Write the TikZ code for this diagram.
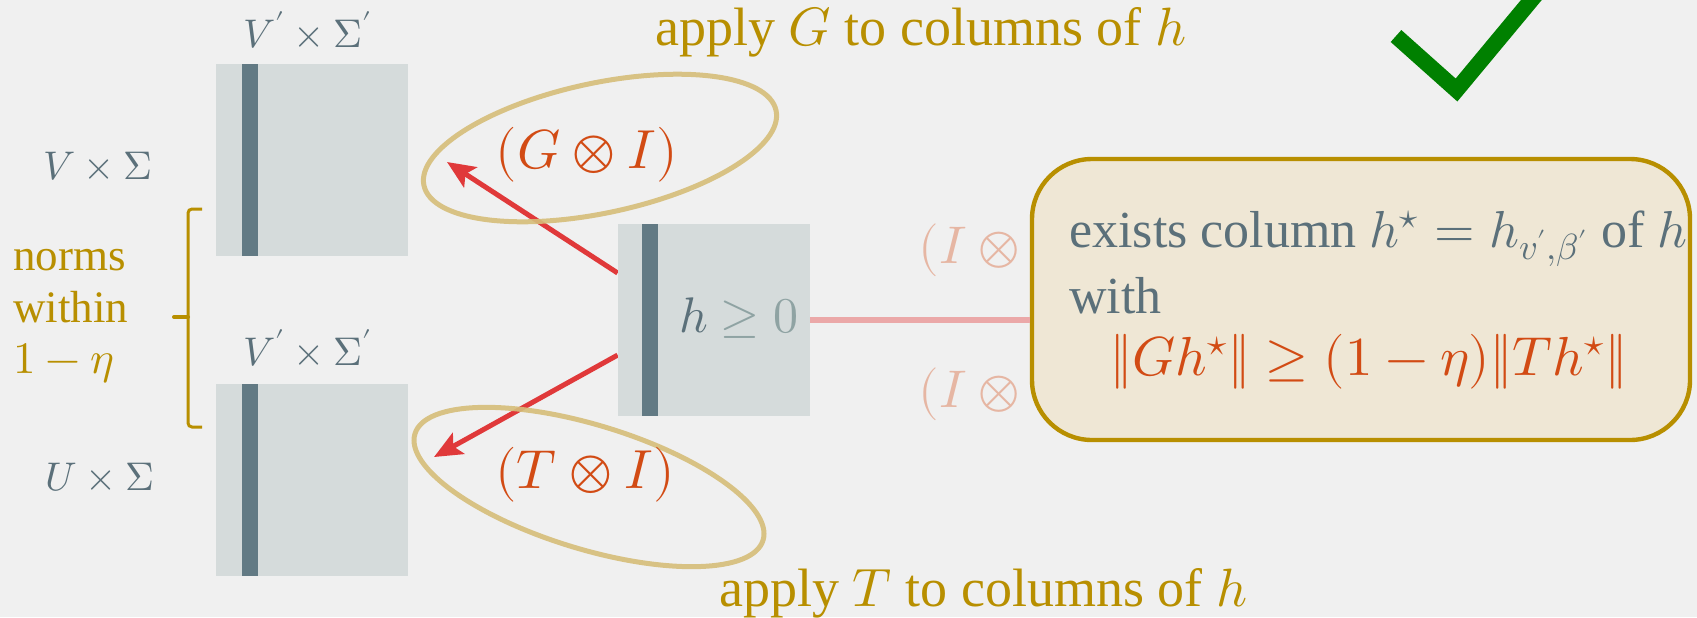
\documentclass[tikz,border=0pt]{standalone}
\usepackage{fontspec}
\usepackage{unicode-math}
\setmainfont{Liberation Serif}
\setmathfont{Latin Modern Math}
\usetikzlibrary{shapes.geometric, arrows.meta}
\definecolor{bg}{HTML}{F0F0F0}
\definecolor{matfill}{HTML}{D5DBDB}
\definecolor{stripe}{HTML}{627A84}
\definecolor{lblgray}{HTML}{5B707A}
\definecolor{gold}{HTML}{B88F00}
\definecolor{orng}{HTML}{D24B14}
\definecolor{redarr}{HTML}{E0393A}
\definecolor{pinkline}{HTML}{EBA8A8}
\definecolor{faded}{HTML}{E6B6A3}
\definecolor{ellc}{HTML}{D6BD79}
\definecolor{boxfill}{HTML}{EFE7D5}
\definecolor{chk}{HTML}{008000}
\definecolor{lightgray}{HTML}{8FA3A3}
\newcommand\fsz[1]{\fontsize{#1}{#1}\selectfont}
\tikzset{
  mat/.style={rectangle, fill=matfill, minimum size=96pt, inner sep=0pt},
  lbl/.style={text=lblgray, font=\fsz{20}, inner sep=0pt},
  goldtxt/.style={text=gold, font=\fsz{27}, inner sep=0pt},
  normtxt/.style={text=gold, font=\fsz{22.5}, inner sep=0pt, anchor=base west},
  oplbl/.style={text=orng, font=\fsz{27.5}, inner sep=0pt},
  fadedlbl/.style={text=faded, font=\fsz{26.5}, inner sep=0pt},
  ell/.style={ellipse, draw=ellc, line width=2.5pt, inner sep=0pt},
  arr/.style={draw=redarr, line width=2.5pt, -{Stealth[length=14pt, width=12pt, inset=3pt]}},
}
\begin{document}
\begin{tikzpicture}[x=0.5pt, y=-0.5pt]
\useasboundingbox (0,0) rectangle (1697,617);
\fill[bg] (0,0) rectangle (1697,617);

% matrices
\node[mat] (m1) at (311.5,160) {};
\node[mat] (m2) at (311.5,480) {};
\fill[stripe] ([xshift=13.5pt]m1.north west) rectangle ([xshift=21.5pt]m1.south west);
\fill[stripe] ([xshift=13.5pt]m2.north west) rectangle ([xshift=21.5pt]m2.south west);

% labels
\node[lbl] (l1) at (308,30) {$V'\times\Sigma'$};
\node[lbl] (l2) at (98,166) {$V\times\Sigma$};
\node[lbl] (l3) at (308,348) {$V'\times\Sigma'$};
\node[lbl] (l4) at (100,477) {$U\times\Sigma$};

% brace
\draw[gold, line width=1.5pt, rounded corners=2pt] (202,209) -- (188,209) -- (188,427) -- (202,427);
\draw[gold, line width=2pt, line cap=round] (174,317) -- (188,317);
\node[normtxt] (n1) at (13,270) {norms};
\node[normtxt] (n2) at (13,322) {within};
\node[normtxt] (n3) at (13,373) {$1-\eta$};

% arrows
\coordinate (tipG) at (447,162);
\coordinate (tipT) at (434,457);
\node[mat] (hm) at (714,320) {};
\draw[arr] (hm.154) -- (tipG);
\draw[arr] (hm.200) -- (tipT);
\node[mat] (hm2) at (714,320) {};
\fill[stripe] ([xshift=12pt]hm2.north west) rectangle ([xshift=20pt]hm2.south west);
\node[anchor=base west, inner sep=0pt, font=\fsz{25}] (hlbl) at (679,332)
  {$\textcolor{lblgray}{h}\ \textcolor{lightgray}{\geq 0}$};

% ellipses
\node[ell, minimum width=180pt, minimum height=65pt, rotate=12, opacity=0.9] (eG) at (600,148) {};
\node[ell, minimum width=182pt, minimum height=62pt, rotate=-17, opacity=0.9] (eT) at (589,487) {};
\node[oplbl] (GI) at (587,155) {$(G\otimes I)$};
\node[oplbl] (TI) at (585,475) {$(T\otimes I)$};

\node[goldtxt, anchor=base west] (applyG) at (655,45) {apply $G$ to columns of $h$};
\node[goldtxt, anchor=base west] (applyT) at (719,606) {apply $T$ to columns of $h$};

% faded labels
\node[fadedlbl, anchor=west] (IG1) at (918,250) {$(I\otimes{}$};
\node[fadedlbl, anchor=west] (IG2) at (918,394) {$(I\otimes{}$};

% box
\node[draw=gold, fill=boxfill, line width=2.2pt, rounded corners=30pt, minimum width=329pt, minimum height=140.5pt, inner sep=0pt] (box) at (1361,299.5) {};
\draw[pinkline, line width=3pt] (hm2.east) -- (hm2.east -| box.west);
\node[text=lblgray, font=\fsz{26}, anchor=base west, inner sep=0pt] (t1) at (1069,247) {exists column $h^\star=h_{v',\beta'}$ of $h$};
\node[text=lblgray, font=\fsz{26}, anchor=base west, inner sep=0pt] (t2) at (1069,313) {with};
\node[text=orng, font=\fsz{27.5}, anchor=base, inner sep=0pt] (t3) at (1369,375) {$\|Gh^\star\|\geq(1-\eta)\|Th^\star\|$};

% check mark
\begin{scope}
\clip (0,0) rectangle (1697,617);
\draw[chk, line width=8pt, line join=miter] (1396,36) -- (1456.5,90) -- (1538,-8);
\end{scope}
\end{tikzpicture}
\end{document}
